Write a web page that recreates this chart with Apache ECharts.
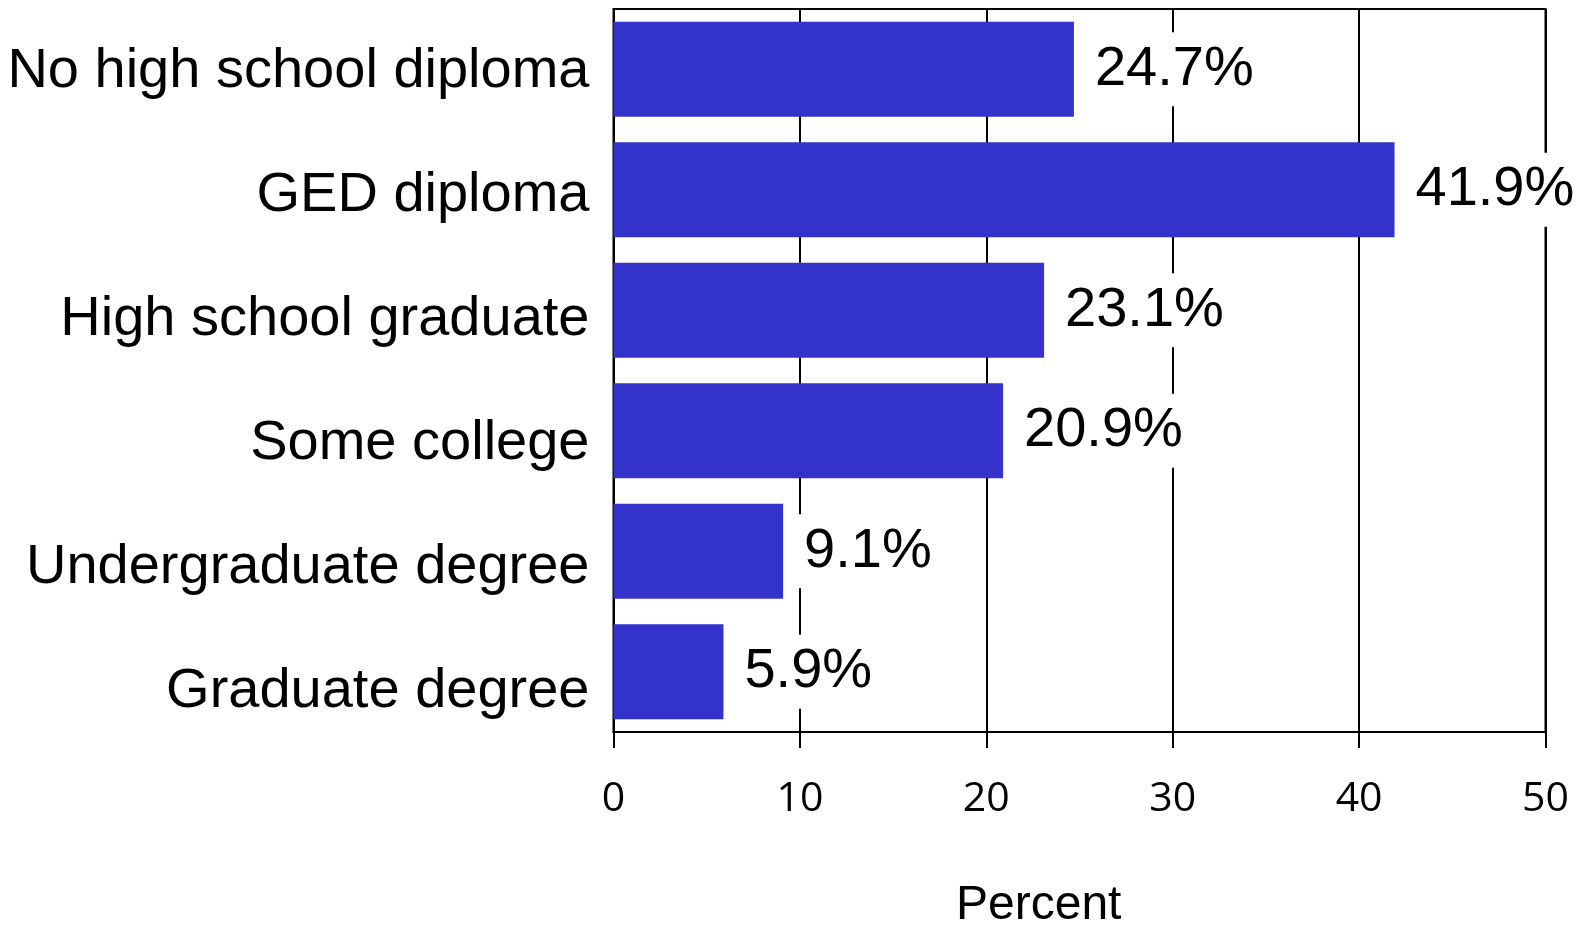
<!DOCTYPE html>
<html>
<head>
<meta charset="utf-8">
<script src="https://cdn.jsdelivr.net/npm/echarts@6/dist/echarts.min.js"></script>
<style>
  html, body { margin: 0; padding: 0; background: #fff; }
  #chart { width: 1591px; height: 926px; }
</style>
</head>
<body>
<div id="chart"></div>
<script>
// Share of respondents by highest level of education
const categories = [
  'No high school diploma',
  'GED diploma',
  'High school graduate',
  'Some college',
  'Undergraduate degree',
  'Graduate degree'
];
const percentValues = [24.7, 41.9, 23.1, 20.9, 9.1, 5.9];
const xTicks = [0, 10, 20, 30, 40, 50];

// Category labels sit on a slightly wider pitch than the bars,
// so each one is nudged a little further down than the one above.
const LABEL_BASE_SHIFT = 2;
const LABEL_STEP_SHIFT = 3.6;
const LABEL_FONT = '"Liberation Sans", Arial, sans-serif';
const categoryRich = {};
categories.forEach((name, i) => {
  categoryRich['c' + i] = {
    fontSize: 56,
    fontFamily: LABEL_FONT,
    color: '#000',
    padding: [2 * (LABEL_BASE_SHIFT + LABEL_STEP_SHIFT * i), 0, 0, 0]
  };
});

const chart = echarts.init(document.getElementById('chart'));

chart.setOption({
  animation: false,
  backgroundColor: '#ffffff',
  grid: {
    left: 613.5,
    right: 45.5,
    top: 9,
    bottom: 194,
    show: true,
    borderColor: '#000',
    borderWidth: 2
  },
  xAxis: {
    type: 'value',
    min: xTicks[0],
    max: xTicks[xTicks.length - 1],
    interval: 10,
    axisLine: { show: true, lineStyle: { color: '#000', width: 2 } },
    axisTick: { show: true, inside: false, length: 16, lineStyle: { color: '#000', width: 2 } },
    splitLine: { show: true, lineStyle: { color: '#000', width: 2 } },
    axisLabel: {
      margin: 47,
      color: '#000',
      fontSize: 41,
      fontFamily: '"Open Sans", "Noto Sans", sans-serif'
    }
  },
  yAxis: {
    type: 'category',
    data: categories,
    inverse: true,
    axisLine: { show: true, lineStyle: { color: '#000', width: 2 } },
    axisTick: { show: false },
    splitLine: { show: false },
    axisLabel: {
      margin: 24,
      color: '#000',
      fontSize: 56,
      fontFamily: LABEL_FONT,
      formatter: (value, index) => '{c' + index + '|' + value + '}',
      rich: categoryRich
    }
  },
  series: [{
    type: 'bar',
    data: percentValues,
    barCategoryGap: '21%',
    itemStyle: { color: '#3333CC' },
    label: {
      show: true,
      position: 'right',
      distance: 9,
      formatter: '{c}%',
      color: '#000',
      fontSize: 56,
      fontFamily: LABEL_FONT,
      backgroundColor: '#ffffff',
      padding: [11, 12, 7, 12]
    }
  }],
  graphic: [{
    type: 'text',
    left: 956,
    top: 882,
    style: {
      text: 'Percent',
      fill: '#000',
      fontSize: 48,
      fontFamily: LABEL_FONT
    }
  }]
});
</script>
</body>
</html>
